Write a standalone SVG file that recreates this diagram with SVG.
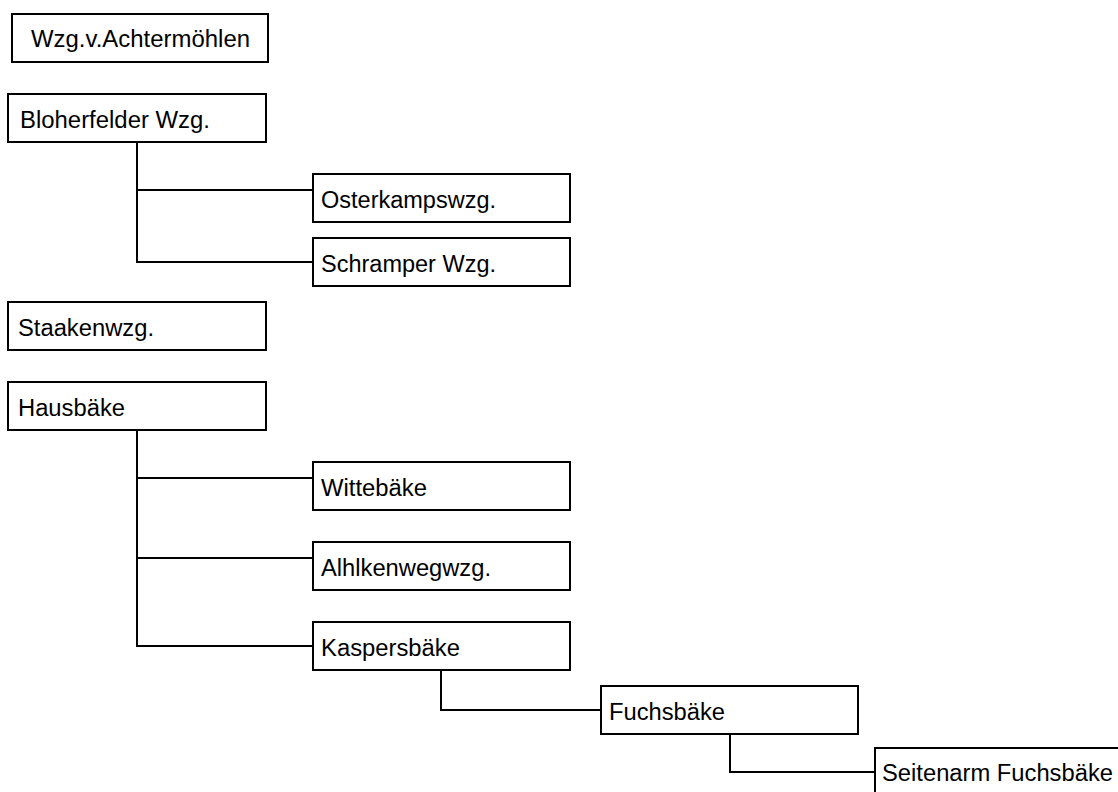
<svg xmlns="http://www.w3.org/2000/svg" width="1118" height="792" viewBox="0 0 1118 792">
<style>
.box{fill:#fff;stroke:#000;stroke-width:2}
.lbl{font-family:"Liberation Sans",Arial,sans-serif;font-size:23px;fill:#000}
.con{fill:none;stroke:#000;stroke-width:2}
</style>
<rect width="1118" height="792" fill="#fff"/>
<g id="connectors">
<path class="con" d="M137 143 V262 H313 M137 190 H313"/>
<path class="con" d="M137 431 V646 H313 M137 478 H313 M137 558 H313"/>
<path class="con" d="M441 671 V710 H601"/>
<path class="con" d="M730 735 V772 H875"/>
</g>
<g id="n1"><rect class="box" x="12" y="14" width="256" height="48"/><text class="lbl" x="31" y="47" textLength="219" lengthAdjust="spacingAndGlyphs">Wzg.v.Achtermöhlen</text></g>
<g id="n2"><rect class="box" x="8" y="94" width="258" height="48"/><text class="lbl" x="20" y="127.5" textLength="190" lengthAdjust="spacingAndGlyphs">Bloherfelder Wzg.</text></g>
<g id="n3"><rect class="box" x="313" y="174" width="257" height="48"/><text class="lbl" x="321" y="207.5" textLength="175" lengthAdjust="spacingAndGlyphs">Osterkampswzg.</text></g>
<g id="n4"><rect class="box" x="313" y="238" width="257" height="48"/><text class="lbl" x="321" y="271.5" textLength="175" lengthAdjust="spacingAndGlyphs">Schramper Wzg.</text></g>
<g id="n5"><rect class="box" x="8" y="302" width="258" height="48"/><text class="lbl" x="18" y="335.5" textLength="136" lengthAdjust="spacingAndGlyphs">Staakenwzg.</text></g>
<g id="n6"><rect class="box" x="8" y="382" width="258" height="48"/><text class="lbl" x="18" y="415.5" textLength="107" lengthAdjust="spacingAndGlyphs">Hausbäke</text></g>
<g id="n7"><rect class="box" x="313" y="462" width="257" height="48"/><text class="lbl" x="321" y="495.5" textLength="106" lengthAdjust="spacingAndGlyphs">Wittebäke</text></g>
<g id="n8"><rect class="box" x="313" y="542" width="257" height="48"/><text class="lbl" x="321" y="575.5" textLength="170" lengthAdjust="spacingAndGlyphs">Alhlkenwegwzg.</text></g>
<g id="n9"><rect class="box" x="313" y="622" width="257" height="48"/><text class="lbl" x="321" y="655.5" textLength="139" lengthAdjust="spacingAndGlyphs">Kaspersbäke</text></g>
<g id="n10"><rect class="box" x="601" y="686" width="257" height="48"/><text class="lbl" x="609" y="719.5" textLength="116" lengthAdjust="spacingAndGlyphs">Fuchsbäke</text></g>
<g id="n11"><rect class="box" x="875" y="748" width="260" height="48"/><text class="lbl" x="882" y="781" textLength="231" lengthAdjust="spacingAndGlyphs">Seitenarm Fuchsbäke</text></g>
</svg>
